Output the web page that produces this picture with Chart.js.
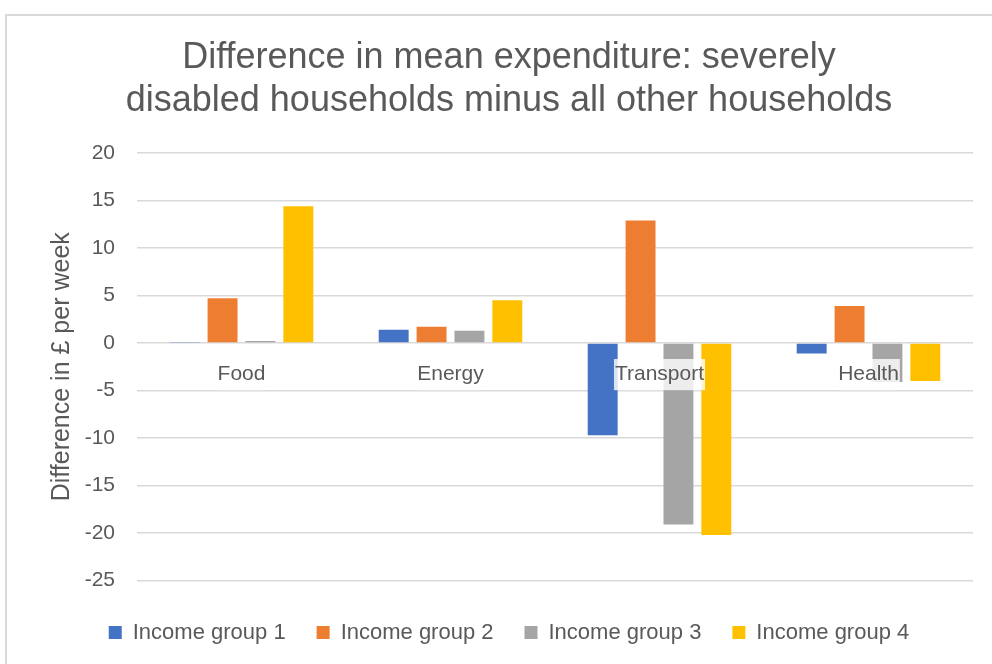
<!DOCTYPE html>
<html>
<head>
<meta charset="utf-8">
<script src="https://cdn.jsdelivr.net/npm/chart.js@4"></script>
<style>
  html, body { margin: 0; padding: 0; background: #ffffff; }
  #wrap { position: relative; width: 992px; height: 664px; overflow: hidden; }
  #frame { position: absolute; left: 5px; top: 14px; width: 1000px; height: 700px;
           border-top: 2px solid #d9d9d9; border-left: 2px solid #d9d9d9; box-sizing: border-box; }
  #c { position: absolute; left: 0; top: 0; }
</style>
</head>
<body>
<div id="wrap">
  <div id="frame"></div>
  <canvas id="c" width="992" height="664"></canvas>
</div>
<script>
const titleLines = ["Difference in mean expenditure: severely", "disabled households minus all other households"];
const yAxisTitle = "Difference in £ per week";
const categories = ["Food", "Energy", "Transport", "Health"];
const seriesNames = ["Income group 1", "Income group 2", "Income group 3", "Income group 4"];
const group1 = [0.05, 1.4, -9.7, -1.1];
const group2 = [4.7, 1.7, 12.9, 3.9];
const group3 = [0.2, 1.3, -19.1, -4.1];
const group4 = [14.4, 4.5, -20.2, -4.0];
const yMin = -25, yMax = 20, yStep = 5;
const colors = ["#4472C4", "#ED7D31", "#A5A5A5", "#FFC000"];

const seriesValues = [group1, group2, group3, group4];
const textColor = "#595959";
const fontFamily = "'Liberation Sans', Arial, sans-serif";

const whiteBg = {
  id: 'whiteBg',
  beforeDraw(chart) {
    const ctx = chart.ctx;
    ctx.save();
    ctx.fillStyle = '#ffffff';
    ctx.fillRect(7, 16, chart.width, chart.height);
    ctx.restore();
  }
};

new Chart(document.getElementById('c'), {
  type: 'bar',
  data: {
    labels: categories,
    datasets: seriesNames.map((name, i) => ({
      label: name,
      data: seriesValues[i],
      backgroundColor: colors[i],
      borderWidth: 0,
      barPercentage: 0.79,
      categoryPercentage: 0.725
    }))
  },
  options: {
    responsive: false,
    animation: false,
    layout: { padding: { left: 45, right: 19, top: 0, bottom: 10.5 } },
    plugins: {
      title: {
        display: true,
        text: titleLines,
        color: textColor,
        font: { family: fontFamily, size: 36, weight: 'normal', lineHeight: 1.2 },
        padding: { top: 36, bottom: 30.6 }
      },
      legend: {
        position: 'bottom',
        title: { display: true, text: '', font: { size: 1, lineHeight: 1 }, padding: { top: 9, bottom: 0 } },
        labels: {
          color: textColor,
          font: { family: fontFamily, size: 22 },
          boxWidth: 13,
          boxHeight: 13,
          padding: 31
        }
      },
      tooltip: { enabled: false }
    },
    scales: {
      x: {
        type: 'category',
        position: { y: 0 },
        grid: { display: false, drawTicks: false },
        border: { display: false },
        ticks: {
          z: 1,
          color: textColor,
          font: { family: fontFamily, size: 21 },
          padding: 19,
          showLabelBackdrop: true,
          backdropColor: 'rgba(255,255,255,0.8)',
          backdropPadding: { x: 1, y: 3 },
          maxRotation: 0
        }
      },
      y: {
        min: yMin,
        max: yMax,
        afterFit(scale) { scale.width = 92; },
        grid: { color: '#d9d9d9', lineWidth: 1.5, drawTicks: false },
        border: { display: false },
        ticks: {
          stepSize: yStep,
          color: textColor,
          font: { family: fontFamily, size: 21 },
          padding: 22
        },
        title: {
          display: true,
          text: yAxisTitle,
          color: textColor,
          font: { family: fontFamily, size: 25 },
          padding: { top: 2, bottom: 0 }
        }
      }
    }
  },
  plugins: [whiteBg]
});
</script>
</body>
</html>
